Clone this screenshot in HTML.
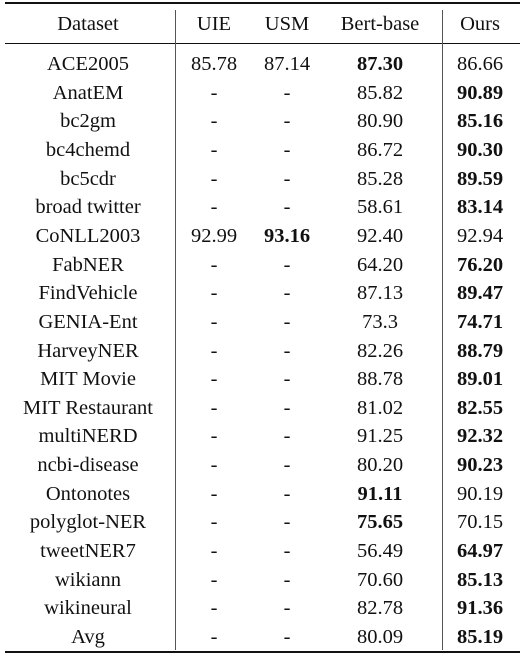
<!DOCTYPE html>
<html><head><meta charset="utf-8"><style>
body{margin:0;width:520px;height:658px;background:#fff;position:relative;overflow:hidden;font-family:"Liberation Serif",serif;font-size:20.5px;color:#111}
.rule{position:absolute;left:5px;width:515px;background:#111}
.vl{position:absolute;width:1px;background:#555}
.c{position:absolute;transform:translate(-50%,-50%);white-space:nowrap;line-height:1}
b{font-weight:bold}
</style></head><body>
<div class="rule" style="top:2px;height:2px"></div>
<div class="rule" style="top:43px;height:1px"></div>
<div class="rule" style="top:651px;height:2px"></div>
<div class="vl" style="left:175px;top:10px;height:640px"></div>
<div class="vl" style="left:442px;top:10px;height:640px"></div>
<script>
const headers=["Dataset","UIE","USM","Bert-base","Ours"];
const datasets=["ACE2005","AnatEM","bc2gm","bc4chemd","bc5cdr","broad twitter","CoNLL2003","FabNER","FindVehicle","GENIA-Ent","HarveyNER","MIT Movie","MIT Restaurant","multiNERD","ncbi-disease","Ontonotes","polyglot-NER","tweetNER7","wikiann","wikineural","Avg"];
const uie=["85.78","-","-","-","-","-","92.99","-","-","-","-","-","-","-","-","-","-","-","-","-","-"];
const usm=["87.14","-","-","-","-","-","93.16","-","-","-","-","-","-","-","-","-","-","-","-","-","-"];
const bert=["87.30","85.82","80.90","86.72","85.28","58.61","92.40","64.20","87.13","73.3","82.26","88.78","81.02","91.25","80.20","91.11","75.65","56.49","70.60","82.78","80.09"];
const ours=["86.66","90.89","85.16","90.30","89.59","83.14","92.94","76.20","89.47","74.71","88.79","89.01","82.55","92.32","90.23","90.19","70.15","64.97","85.13","91.36","85.19"];
const cols=[88,214,287,380,480];
function add(t,x,y,bold,name){const d=document.createElement('div');d.className='c';d.style.left=x+'px';d.style.top=y+'px';d.textContent=t;if(bold)d.style.fontWeight='bold';


document.body.appendChild(d);}
headers.forEach((h,i)=>add(h,cols[i],24,false,'header-'+h.toLowerCase()));
datasets.forEach((ds,r)=>{const y=64+r*28.65;
const vals=[uie[r],usm[r],bert[r],ours[r]];
const nums=vals.map(v=>v==='-'?-1:parseFloat(v));const mx=Math.max(...nums);
add(ds,cols[0],y,false,'row-label');
vals.forEach((v,i)=>add(v,cols[i+1],y,v!=='-'&&nums[i]===mx,'cell-'+headers[i+1].toLowerCase()));});
</script>
</body></html>
